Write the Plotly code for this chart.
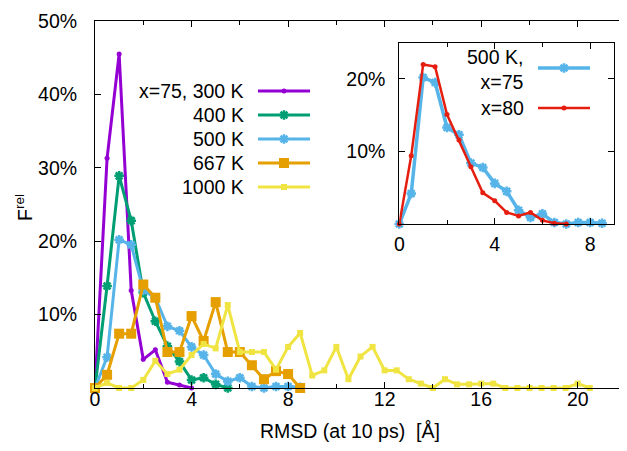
import plotly.graph_objects as go

# ---------------- data (F_rel in %, RMSD bins of 0.5 Å) ----------------
step = 0.5
f_300 = [0, 31.3, 45.5, 13.3, 3.9, 5.2, 0.8, 0.4, 0]
f_400 = [0, 13.9, 28.9, 22.8, 13.0, 9.1, 5.7, 3.6, 1.1, 1.4, 0.5, 0]
f_500 = [0, 4.2, 20.2, 19.5, 13.3, 12.3, 8.4, 7.8, 5.6, 4.5, 1.9, 0.9, 1.4, 0.2, 0, 0.2, 0.2, 0.1]
f_667 = [0, 1.8, 7.4, 7.4, 14.1, 12.3, 4.9, 4.9, 9.8, 6.4, 11.7, 4.9, 4.9, 3.1, 1.2, 2.3, 1.9, 0]
f_1000 = [0, 0.7, 0, 0, 1.1, 3.7, 1.9, 2.5, 4.5, 6.0, 5.4, 11.3, 4.9, 4.9, 4.9, 2.5, 5.6, 7.5,
          1.7, 2.4, 5.6, 1.2, 4.3, 5.6, 2.4, 2.4, 1.2, 0.6, 0, 1.2, 0.5, 0.5, 0.6, 0.6, 0, 0,
          0, 0, 0, 0, 0.6, 0]
f_500_x80 = [0, 9.4, 22.0, 21.7, 15.1, 11.6, 7.9, 4.3, 3.2, 1.6, 1.1, 1.6, 0.5, 0.1, 0]

main_names = ["x=75, 300 K", "400 K", "500 K", "667 K", "1000 K"]
inset_names = ["500 K,<br>x=75", "x=80"]
x_ticks_main = [0, 4, 8, 12, 16, 20]
y_ticks_main = [10, 20, 30, 40, 50]
x_ticks_inset = [0, 4, 8]
y_ticks_inset = [10, 20]


def xs(vals):
    return [i * step for i in range(len(vals))]


# ---------------- styles ----------------
FONT = "Liberation Sans, Arial, sans-serif"
FS = 19.5
C_PUR, C_GRN, C_BLU, C_ORG, C_YEL, C_RED = "#9400d3", "#009e73", "#56b4e9", "#e69f00", "#f0e442", "#e51e10"

styles = [
    dict(color=C_PUR, symbol="circle", size=5, lw=3),
    dict(color=C_GRN, symbol="asterisk", size=8, lw=3),
    dict(color=C_BLU, symbol="asterisk", size=8, lw=3),
    dict(color=C_ORG, symbol="square", size=10, lw=3),
    dict(color=C_YEL, symbol="square", size=6, lw=3),
]


def marker(st):
    if st["symbol"] == "asterisk":
        return dict(symbol="asterisk", size=st["size"], color=st["color"],
                    line=dict(width=2.5, color=st["color"]))
    return dict(symbol=st["symbol"], size=st["size"], color=st["color"], line=dict(width=0))


# the page puts the figure 8 px in from the top-left corner
OFF = 8
W, H = 627 - OFF, 451 - OFF
# plot area in page pixels: left 95, right 626, top 21, bottom 388
L, R, T, B = 95 - OFF, W - (626 - OFF), 21 - OFF, H - (388 - OFF)
pw, ph = W - L - R, H - T - B


def px2paper(px, py):
    """page pixel -> paper coordinates"""
    return (px - OFF - L) / pw, (H - B - (py - OFF)) / ph


fig = go.Figure()
series = [f_300, f_400, f_500, f_667, f_1000]
for vals, st, nm in zip(series, styles, main_names):
    fig.add_trace(go.Scatter(x=xs(vals), y=vals, mode="lines+markers", name=nm,
                             line=dict(color=st["color"], width=st["lw"]),
                             marker=marker(st), cliponaxis=False, showlegend=False,
                             xaxis="x", yaxis="y"))

inset_styles = [dict(color=C_BLU, symbol="asterisk", size=8, lw=3.5),
                dict(color=C_RED, symbol="circle", size=5, lw=2.5)]
for vals, st, nm in zip([f_500, f_500_x80], inset_styles, inset_names):
    fig.add_trace(go.Scatter(x=xs(vals), y=vals, mode="lines+markers", name=nm,
                             line=dict(color=st["color"], width=st["lw"]),
                             marker=marker(st), cliponaxis=False, showlegend=False,
                             xaxis="x2", yaxis="y2"))

# ---------------- manual gnuplot-style keys (text left, sample right) ----------------
# hidden axis x3/y3 spans the main plot area in page-pixel units
main_key_rows = [91, 115, 139, 163, 187]
for st, nm, py in zip(styles, main_names, main_key_rows):
    fig.add_trace(go.Scatter(x=[258, 284, 310], y=[py] * 3, mode="lines",
                             line=dict(color=st["color"], width=st["lw"]),
                             showlegend=False, hoverinfo="skip", xaxis="x3", yaxis="y3"))
    fig.add_trace(go.Scatter(x=[284], y=[py], mode="markers", marker=marker(st),
                             showlegend=False, hoverinfo="skip", xaxis="x3", yaxis="y3"))
    ax, ay = px2paper(246, py)
    fig.add_annotation(x=ax, y=ay, xref="paper", yref="paper", text=nm, showarrow=False,
                       xanchor="right", yanchor="middle", font=dict(family=FONT, size=FS, color="black"))

inset_key_rows = [68, 108]
inset_text_rows = [70, 108]
for st, nm, py, ty in zip(inset_styles, inset_names, inset_key_rows, inset_text_rows):
    fig.add_trace(go.Scatter(x=[538, 564, 590], y=[py] * 3, mode="lines",
                             line=dict(color=st["color"], width=st["lw"]),
                             showlegend=False, hoverinfo="skip", xaxis="x3", yaxis="y3"))
    fig.add_trace(go.Scatter(x=[564], y=[py], mode="markers", marker=marker(st),
                             showlegend=False, hoverinfo="skip", xaxis="x3", yaxis="y3"))
    ax, ay = px2paper(526, ty)
    fig.add_annotation(x=ax, y=ay, xref="paper", yref="paper", text=nm, showarrow=False,
                       xanchor="right", yanchor="middle", align="right",
                       font=dict(family=FONT, size=FS, color="black"))

# titles
ax, ay = px2paper(350, 431)
fig.add_annotation(x=ax, y=ay, xref="paper", yref="paper", text="RMSD (at 10 ps)\u00a0\u00a0[Å]",
                   showarrow=False, xanchor="center", yanchor="middle",
                   font=dict(family=FONT, size=FS, color="black"))
ax, ay = px2paper(24, 208)
fig.add_annotation(x=ax, y=ay, xref="paper", yref="paper", text="F<sup>rel</sup>", textangle=-90,
                   showarrow=False, xanchor="center", yanchor="middle",
                   font=dict(family=FONT, size=FS, color="black"))

axis_common = dict(showline=True, linecolor="black", linewidth=1, mirror="ticks",
                   ticks="inside", tickcolor="black", showgrid=False, zeroline=False,
                   automargin=False, tickfont=dict(family=FONT, size=FS, color="black"))

# inset box in page pixels
ix0, ix1, iy_top, iy_bot = 399.3, 614, 42.7, 224
dom_x = [(ix0 - OFF - L) / pw, (ix1 - OFF - L) / pw]
dom_y = [(H - B - (iy_bot - OFF)) / ph, (H - B - (iy_top - OFF)) / ph]

fig.update_layout(
    width=W, height=H, margin=dict(l=L, r=R, t=T, b=B, autoexpand=False),
    paper_bgcolor="white", plot_bgcolor="rgba(0,0,0,0)", showlegend=False,
    xaxis=dict(range=[0, 22], tickvals=x_ticks_main, ticklen=6, ticklabelstandoff=-6,
               minor=dict(dtick=2, tick0=0, ticks="inside", ticklen=4, tickcolor="black"),
               **axis_common),
    yaxis=dict(range=[0, 50], tickvals=y_ticks_main, ticktext=[f"{v}%" for v in y_ticks_main],
               ticklen=6, ticklabelstandoff=13, **axis_common),
    xaxis2=dict(domain=dom_x, anchor="y2", range=[0, 9], tickvals=x_ticks_inset, ticklen=6,
                ticklabelstandoff=3,
                minor=dict(dtick=2, tick0=0, ticks="inside", ticklen=4, tickcolor="black"),
                **axis_common),
    yaxis2=dict(domain=dom_y, anchor="x2", range=[0, 25], tickvals=y_ticks_inset,
                ticktext=[f"{v}%" for v in y_ticks_inset], ticklen=6, ticklabelstandoff=9,
                **axis_common),
    xaxis3=dict(domain=[0, 1], range=[95, 626], visible=False, overlaying="x", anchor="y3"),
    yaxis3=dict(domain=[0, 1], range=[388, 21], visible=False, overlaying="y", anchor="x3"),
)

fig.write_html("out.html")
